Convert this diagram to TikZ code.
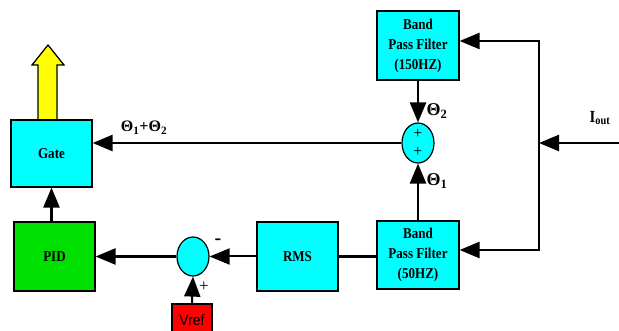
\documentclass[tikz,border=0pt]{standalone}
\usepackage{fontspec}
\newfontfamily\blockfont[FakeStretch=0.87]{Liberation Serif}
\newfontfamily\tagfont{Liberation Serif}
\newfontfamily\reffont[FakeStretch=0.93]{Liberation Sans}
\definecolor{blkcyan}{RGB}{0,255,255}
\definecolor{blkgreen}{RGB}{0,224,0}
\definecolor{blkred}{RGB}{255,0,0}
\definecolor{blkyellow}{RGB}{255,255,0}
\usetikzlibrary{arrows.meta,positioning,shapes.geometric,calc}

\begin{document}
\begin{tikzpicture}[x=1pt,y=-1pt,
  block/.style={draw,line width=1.2pt,fill=blkcyan,align=center,inner sep=0pt,
    font=\blockfont\bfseries\fontsize{15}{20}\selectfont,minimum width=82pt,minimum height=68pt},
  summer/.style={draw,ellipse,line width=1.2pt,fill=blkcyan,inner sep=0pt,align=center,
    font=\tagfont\fontsize{16}{18}\selectfont,minimum width=32pt,minimum height=40pt},
  wire/.style={line width=2.5pt},
  feed/.style={wire,-{Triangle[length=20pt,width=16pt]}},
  tag/.style={font=\tagfont\bfseries\fontsize{18}{18}\selectfont},
  sign/.style={font=\tagfont\fontsize{17}{17}\selectfont}]
  \useasboundingbox (0,0) rectangle (619,331);
  %% Output arrow above the gate
  \draw[line width=1.2pt,fill=blkyellow] (38,120) -- (38,65) -- (32,65) -- (48,45)
    -- (64,65) -- (57,65) -- (57,120) -- cycle;
  %% Blocks
  \node[block,minimum width=81pt,minimum height=67pt] (gate) at (51.5,153.5) {Gate};
  \node[block,fill=blkgreen,minimum width=81pt,minimum height=69pt] (pid) at (54.5,256.5) {PID};
  \node[block,minimum width=81pt,minimum height=69pt] (rms) at (297.5,256.5) {RMS};
  \node[block] (bpflow) at (418,255) {Band\\Pass Filter\\(50HZ)};
  \node[block,minimum height=69pt] (bpfhigh) at (418,45.5) {Band\\Pass Filter\\(150HZ)};
  \node[summer] (sumtop) at (418,143) {+\\+};
  \node[summer,minimum height=39pt] (sumlow) at (193,256.5) {};
  \node[draw,line width=1.2pt,fill=blkred,minimum width=40pt,minimum height=32pt,
    font=\reffont\fontsize{15}{15}\selectfont] (vref) at (192,320) {Vref};
  %% Input split
  \coordinate (iout) at (619,143);
  \coordinate (tap) at (539,143);
  \draw[feed] (iout) -- (tap);
  \draw[feed] (tap) |- ([yshift=4.5pt]bpfhigh.east);
  \draw[feed] (tap) |- ([yshift=5pt]bpflow.east);
  %% Signal paths
  \draw[feed] (bpfhigh.south) -- (sumtop.north);
  \draw[feed] (bpflow.north) -- (sumtop.south);
  \draw[feed] (sumtop.west) -- (sumtop.west -| gate.east);
  \draw[wire] ([yshift=-1.5pt]bpflow.west) -- ([yshift=-1.5pt]bpflow.west -| rms.east);
  \draw[feed,line width=2pt] (rms.west) -- (sumlow.east);
  \draw[feed] (sumlow.west) -- (sumlow.west -| pid.east);
  \draw[feed,line width=2pt] (vref.north) -- (sumlow.south);
  \draw[feed] (gate.south |- pid.north) -- (gate.south);
  %% Labels
  \node[tag] (th2) at (437,111) {Θ\textsubscript{2}};
  \node[tag] (th1) at (437,181) {Θ\textsubscript{1}};
  \node[tag,font=\tagfont\bfseries\fontsize{16}{16}\selectfont] (thsum) at (144,128) {Θ\textsubscript{1}+Θ\textsubscript{2}};
  \node[tag,font=\blockfont\bfseries\fontsize{17}{17}\selectfont] (ilabel) at (600,118) {I\textsubscript{out}};
  \node[sign,font=\tagfont\bfseries\fontsize{20}{20}\selectfont] (minus) at (218,242) {-};
  \node[sign] (plus) at (204,287) {+};
\end{tikzpicture}
\end{document}
